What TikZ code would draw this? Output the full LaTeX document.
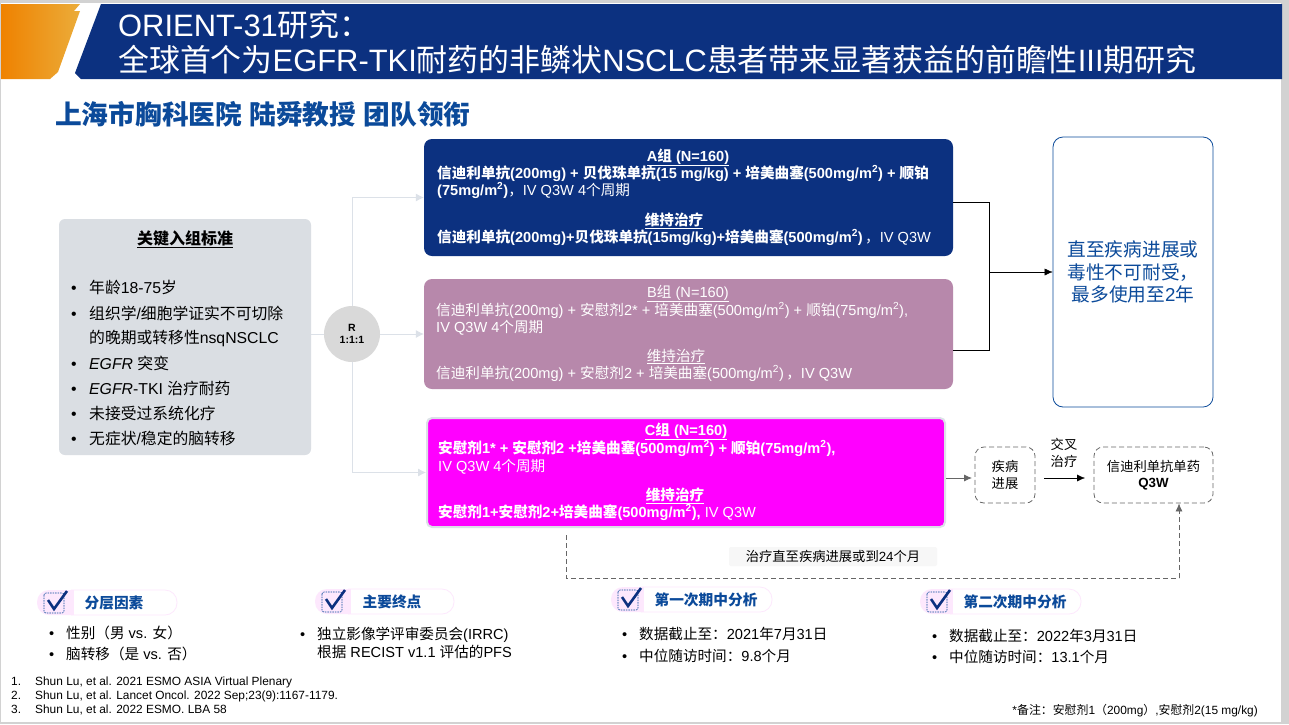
\documentclass[tikz,border=0pt]{standalone}
\usepackage{fontspec}
\usetikzlibrary{arrows.meta}
\setmainfont{Liberation Sans}
\newfontfamily\cjk{Noto Sans CJK SC}
% CJK runs switch font by themselves
\newXeTeXintercharclass\cjkclass
\newcount\cjkc
\cjkc="4E00 \loop\XeTeXcharclass\cjkc=\cjkclass\ifnum\cjkc<"9FFF\advance\cjkc by 1\repeat
\cjkc="3000 \loop\XeTeXcharclass\cjkc=\cjkclass\ifnum\cjkc<"303F\advance\cjkc by 1\repeat
\cjkc="FF00 \loop\XeTeXcharclass\cjkc=\cjkclass\ifnum\cjkc<"FF60\advance\cjkc by 1\repeat
\XeTeXinterchartoks 0 \cjkclass={\begingroup\cjk}
\XeTeXinterchartoks 4095 \cjkclass={\begingroup\cjk}
\XeTeXinterchartoks \cjkclass 0={\endgroup}
\XeTeXinterchartoks \cjkclass 4095={\endgroup}
\XeTeXinterchartokenstate=1
\newcommand{\fsz}[1]{\fontsize{#1}{#1}\selectfont}
\newcommand{\sq}{\textsuperscript{2}}
\definecolor{navy}{HTML}{0C3180}
\definecolor{blueink}{HTML}{0B4A9A}
\definecolor{mauve}{HTML}{B788AB}
\definecolor{pureMagenta}{HTML}{FF00FF}
\definecolor{critgray}{HTML}{DADEE3}
\definecolor{linegray}{HTML}{DCE1E8}
\definecolor{dashgray}{HTML}{666666}
\definecolor{pillpink}{HTML}{FDE8FD}
\definecolor{orangeL}{HTML}{EF8200}
\definecolor{orangeR}{HTML}{EBAC3A}
\tikzset{
  >={Latex[length=8pt,width=7pt]},
  armbox/.style={rounded corners=8pt,inner sep=0pt},
  armtext/.style={anchor=base west,inner sep=0pt,text=white,font=\fsz{14.6}},
  armhead/.style={anchor=base,inner sep=0pt,text=white,font=\fsz{14.6}},
  dashbox/.style={draw=dashgray,dash pattern=on 5pt off 3pt,thick,rounded corners=9pt,inner sep=0pt,align=center,font=\fsz{13.3}},
  lightline/.style={draw=linegray,thick},
  route/.style={draw=dashgray,dash pattern=on 5pt off 3pt,thick},
  bultext/.style={anchor=west,inner sep=0pt,font=\fsz{15.8}},
  plain/.style={inner sep=0pt,font=\fsz{13.3}},
  ref/.style={anchor=west,inner sep=0pt,font=\fsz{11.9}},
}
\begin{document}
\begin{tikzpicture}[x=1pt,y=-1pt]
  \useasboundingbox (0,0) rectangle (1289,724);
  \fill[gray!35] (0,0) rectangle (1289,724);
  \fill[white] (1,3) rectangle (1281,722);

  % header
  \shade[left color=orangeL,right color=orangeR]
     (1,4) -- (80,4) -- (74,11) -- (80,11) -- (58,72) -- (50,79) -- (1,79) -- cycle;
  \fill[navy] (101,4) -- (1282,4) -- (1282,79) -- (81,79) -- (75,73) -- cycle;
  \node[anchor=west,inner sep=0pt,text=white,font=\fsz{30.9}] (title1) at (118,25) {ORIENT-31研究：};
  \node[anchor=west,inner sep=0pt,text=white,font=\fsz{30.9}] (title2) at (118,60)
     {全球首个为EGFR-TKI耐药的非鳞状NSCLC患者带来显著获益的前瞻性III期研究};
  \node[anchor=west,inner sep=0pt,text=blueink,font=\bfseries\fsz{26.7}] (subtitle) at (55,114)
     {上海市胸科医院 陆舜教授 团队领衔};

  % inclusion criteria
  \node[fill=critgray,rounded corners=6pt,minimum width=252pt,minimum height=236pt,inner sep=0pt] (crit) at (185,337) {};
  \node[inner sep=0pt,font=\bfseries\fsz{16}] (crithead) at (185,239) {\underline{关键入组标准}};
  \foreach \n/\y/\t in {c1/287/年龄18-75岁,
                        c2/313/{组织学/细胞学证实不可切除},
                        c4/363/\textit{EGFR} 突变,
                        c5/388/\textit{EGFR}-TKI 治疗耐药,
                        c6/413/未接受过系统化疗,
                        c7/438/{无症状/稳定的脑转移}}
    \node[bultext] (\n) at (71,\y) {\makebox[18pt][l]{\textbullet}\t};
  \node[bultext] (c3) at (89,338) {的晚期或转移性nsqNSCLC};

  % randomisation
  \node[circle,fill=black!15,minimum size=56pt,inner sep=0pt,align=center,font=\bfseries\fsz{10.5}] (rand) at (352,334) {R\\[2pt]1:1:1};

  % arms
  \node[armbox,fill=navy,minimum width=529pt,minimum height=117pt] (armA) at (688.5,197.5) {};
  \node[armbox,fill=mauve,minimum width=529pt,minimum height=110pt] (armB) at (688.5,334) {};
  \node[armbox,rounded corners=5pt,fill=pureMagenta,draw=linegray,line width=2pt,minimum width=518pt,minimum height=109pt] (armC) at (686,472.5) {};

  \node[armhead,font=\bfseries\fsz{14.6}] (a0) at (688,161) {\underline{A组 (N=160)}};
  \node[armtext,font=\bfseries\fsz{14.6}] (a1) at (437,178) {信迪利单抗(200mg) + 贝伐珠单抗(15 mg/kg) + 培美曲塞(500mg/m\sq) + 顺铂};
  \node[armtext] (a2) at (437,195) {\textbf{(75mg/m\sq)}，IV Q3W 4个周期};
  \node[armhead,font=\bfseries\fsz{14.6}] (a3) at (674,225) {\underline{维持治疗}};
  \node[armtext] (a4) at (437,242) {\textbf{信迪利单抗(200mg)+贝伐珠单抗(15mg/kg)+培美曲塞(500mg/m\sq)}\,，IV Q3W};

  \node[armhead] (b0) at (688,297) {\underline{B组 (N=160)}};
  \node[armtext] (b1) at (436,315) {信迪利单抗(200mg) + 安慰剂2* + 培美曲塞(500mg/m\sq) + 顺铂(75mg/m\sq),};
  \node[armtext] (b2) at (436,332) {IV Q3W 4个周期};
  \node[armhead] (b3) at (676,361) {\underline{维持治疗}};
  \node[armtext] (b4) at (436,378) {信迪利单抗(200mg) + 安慰剂2 + 培美曲塞(500mg/m\sq)\,，IV Q3W};

  \node[armhead,font=\bfseries\fsz{14.6}] (c0) at (686,435) {\underline{C组 (N=160)}};
  \node[armtext,font=\bfseries\fsz{14.6}] (c1) at (438,453) {安慰剂1* + 安慰剂2 +培美曲塞(500mg/m\sq) + 顺铂(75mg/m\sq),};
  \node[armtext] (c2) at (438,471) {IV Q3W 4个周期};
  \node[armhead,font=\bfseries\fsz{14.6}] (c3a) at (675,500) {\underline{维持治疗}};
  \node[armtext] (c4a) at (438,517) {\textbf{安慰剂1+安慰剂2+培美曲塞(500mg/m\sq),} IV Q3W};

  % outcome boxes
  \node[draw=blueink,thick,fill=white,rounded corners=10pt,minimum width=160pt,minimum height=270pt,inner sep=0pt,
        align=center,text=blueink,font=\fsz{18.7}] (until) at (1133,272)
     {直至疾病进展或\\[4pt]毒性不可耐受，\\[4pt]最多使用至2年};
  \node[dashbox,minimum width=60pt,minimum height=56pt] (pd) at (1005,475) {疾病\\[3pt]进展};
  \node[dashbox,minimum width=119pt,minimum height=56pt] (mono) at (1153.5,475) {信迪利单抗单药\\[3pt]\textbf{Q3W}};
  \node[plain,align=center] (cross) at (1064,453) {交叉\\[3pt]治疗};
  \node[fill=black!3,rounded corners=2pt,minimum width=208pt,minimum height=19pt,inner sep=0pt,font=\fsz{13.3}] (until24) at (833,556.5) {治疗直至疾病进展或到24个月};

  % connectors
  \coordinate (joinA) at (989,202);
  \coordinate (joinB) at (989,350);
  \coordinate (join) at (989,272);
  \coordinate (crossL) at (1044,478);
  \coordinate (crossR) at (1085,478);
  \coordinate (pdL) at (972,478);
  \coordinate (routeS) at (566,535);
  \coordinate (routeC) at (566,578);
  \coordinate (routeE) at (1179,578);
  \draw[lightline] (crit.east |- rand) -- (rand);
  \draw[lightline,-{Latex[length=8pt,width=8pt,color=linegray]}] (rand) |- (armA.west);
  \draw[lightline,-{Latex[length=8pt,width=8pt,color=linegray]}] (rand) -- (armB.west);
  \draw[lightline,-{Latex[length=8pt,width=8pt,color=linegray]}] (rand) |- (armC.west);
  \draw (armA.east |- joinA) -- (joinA) -- (joinB) -- (armB.east |- joinB);
  \draw[->] (join) -- (until.west |- join);
  \draw[dashgray,thick,->] (armC.east |- pdL) -- (pdL);
  \draw[->] (crossL) -- (crossR);
  \draw[route] (routeS) -- (routeC) -- (routeE);
  \draw[route,-{Latex[length=8pt,width=7pt,color=dashgray]}] (routeE) -- (routeE |- mono.south);

  % tags
  \foreach \n/\l/\r/\t/\m/\c/\lab in {tagA/37/177/590/74/114/分层因素,
                                     tagB/315/454/589/351/392/主要终点,
                                     tagC/611/772/587/644/706/第一次期中分析,
                                     tagD/920/1081/589/953/1015/第二次期中分析}{
    \fill[pillpink,rounded corners=12pt] (\l,\t) rectangle (\m+10,\t+25);
    \fill[white] (\m,\t+1) rectangle (\m+10,\t+24);
    \draw[pillpink,thick,fill=white,rounded corners=12pt] (\m-3,\t) -- (\r,\t) -- (\r,\t+25) -- (\m-3,\t+25);
    \fill[pillpink] (\m-4,\t) rectangle (\m,\t+25);
    \draw[blueink,semithick,dash pattern=on 1.5pt off 1pt,rounded corners=2pt] (\l+7,\t+3) rectangle (\l+27,\t+23);
    \draw[navy,line width=2.6pt] (\l+11,\t+10) -- (\l+17,\t+19) -- (\l+30,\t+1);
    \node[inner sep=0pt,text=blueink,font=\bfseries\fsz{14.7}] (\n) at (\c,\t+12.5) {\lab};
  }

  % tag lists
  \foreach \n/\x/\y/\t in {l1/49/633/性别（男 vs. 女）,
                           l2/49/654/脑转移（是 vs. 否）,
                           l3/300/635/独立影像学评审委员会(IRRC),
                           l5/622/634/数据截止至：2021年7月31日,
                           l6/622/656/中位随访时间：9.8个月,
                           l7/932/636/数据截止至：2022年3月31日,
                           l8/932/657/中位随访时间：13.1个月}
    \node[bultext,font=\fsz{14.6}] (\n) at (\x,\y) {\makebox[17pt][l]{\textbullet}\t};
  \node[bultext,font=\fsz{14.6}] (l4) at (317,652) {根据 RECIST v1.1 评估的PFS};

  % references
  \foreach \n/\y/\num/\t in {r1/682/1./Shun Lu{,} et al. 2021 ESMO ASIA Virtual Plenary,
                             r2/696/2./Shun Lu{,} et al. Lancet Oncol. 2022 Sep;23(9):1167-1179.,
                             r3/710/3./Shun Lu{,} et al. 2022 ESMO. LBA 58}
    \node[ref] (\n) at (11,\y) {\makebox[24pt][l]{\num}\t};
  \node[inner sep=0pt,anchor=east,font=\fsz{11.9}] (note) at (1258,711) {*备注：安慰剂1（200mg）,安慰剂2(15 mg/kg)};
\end{tikzpicture}
\end{document}
